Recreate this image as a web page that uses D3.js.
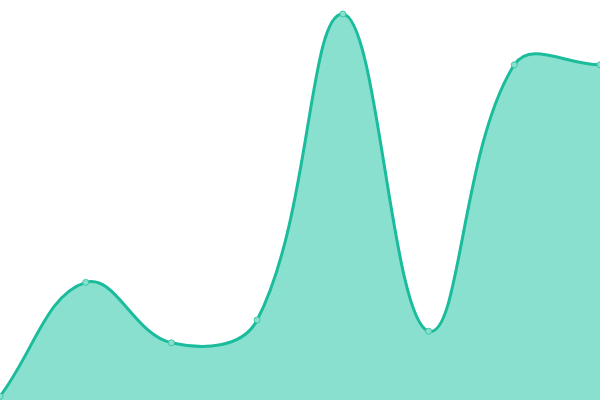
<!DOCTYPE html>
<html>
<head>
<meta charset="utf-8">
<script src="https://cdn.jsdelivr.net/npm/d3@7"></script>
<style>
    html, body { margin: 0; padding: 0; background: #fff; }
    svg { display: block; }
</style>
</head>
<body>
<svg id="chart" width="600" height="400"></svg>
<script>
// chart values
var categories = [0, 1, 2, 3, 4, 5, 6, 7];
var values = [0.9, 29.4, 14.3, 20, 96.5, 17.2, 83.8, 83.8];

var svg = d3.select('#chart');
var width = 600, height = 400;
var tension = 0.4;

var x = d3.scaleLinear()
    .domain([0, categories.length - 1])
    .range([0, width]);
var y = d3.scaleLinear()
    .domain([0, 100])
    .range([height, 0]);

var pts = categories.map(function (c, i) {
    return {x: x(c), y: y(values[i])};
});

// distance-weighted spline control points
var dist = function (a, b) {
    return Math.sqrt((a.x - b.x) * (a.x - b.x) + (a.y - b.y) * (a.y - b.y));
};
var clamp = function (v, lo, hi) {
    return Math.max(lo, Math.min(hi, v));
};
var ctrl = pts.map(function (cur, i) {
    var prev = pts[i - 1] || cur;
    var next = pts[i + 1] || cur;
    var d01 = dist(cur, prev);
    var d12 = dist(next, cur);
    var s01 = d01 / (d01 + d12) || 0;
    var s12 = d12 / (d01 + d12) || 0;
    var fa = tension * s01;
    var fb = tension * s12;
    return {
        px: clamp(cur.x - fa * (next.x - prev.x), 0, width),
        py: clamp(cur.y - fa * (next.y - prev.y), 0, height),
        nx: clamp(cur.x + fb * (next.x - prev.x), 0, width),
        ny: clamp(cur.y + fb * (next.y - prev.y), 0, height)
    };
});

var splinePath = function (p) {
    p.moveTo(pts[0].x, pts[0].y);
    for (var i = 1; i < pts.length; i++) {
        p.bezierCurveTo(ctrl[i - 1].nx, ctrl[i - 1].ny,
            ctrl[i].px, ctrl[i].py, pts[i].x, pts[i].y);
    }
    return p;
};

var areaPath = splinePath(d3.path());
areaPath.lineTo(pts[pts.length - 1].x, y(0));
areaPath.lineTo(pts[0].x, y(0));
areaPath.closePath();

svg.append('path')
    .attr('d', areaPath.toString())
    .style('fill', '#89e0cf');

svg.append('path')
    .attr('d', splinePath(d3.path()).toString())
    .style('fill', 'none')
    .style('stroke', '#1abc9c')
    .style('stroke-width', 3);

svg.selectAll('circle.pt')
    .data(pts)
    .enter()
    .append('circle')
    .attr('class', 'pt')
    .attr('cx', function (d) { return d.x; })
    .attr('cy', function (d) { return d.y; })
    .attr('r', 3)
    .style('fill', '#89e0cf')
    .style('stroke', '#3cc8aa')
    .style('stroke-width', 1);
</script>
</body>
</html>
